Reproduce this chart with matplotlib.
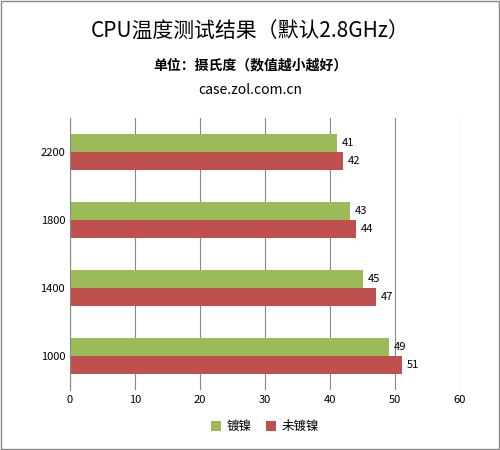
import matplotlib
matplotlib.use("Agg")
import matplotlib.pyplot as plt
import numpy as np

plt.rcParams['font.family'] = ['Noto Sans CJK SC', 'DejaVu Sans']

categories = ['1000', '1400', '1800', '2200']
plated = [49, 45, 43, 41]
unplated = [51, 47, 44, 42]
xticks = [0, 10, 20, 30, 40, 50, 60]

fig = plt.figure(figsize=(5, 4.5), dpi=100)
fig.patch.set_facecolor('white')
fig.add_artist(plt.Rectangle((0.002, 0.002), 0.996, 0.996, transform=fig.transFigure,
                             fill=False, edgecolor='#888888', lw=1))
ax = fig.add_axes([0.14, 0.133, 0.78, 0.605])
y = np.arange(len(categories))
h = 0.27
ax.barh(y + h/2, plated, height=h, color='#9BBB59', label='镀镍')
ax.barh(y - h/2, unplated, height=h, color='#C0504D', label='未镀镍')
for i in range(len(categories)):
    ax.text(plated[i] + 0.8, y[i] + h/2, str(plated[i]), va='center', fontsize=8)
    ax.text(unplated[i] + 0.8, y[i] - h/2, str(unplated[i]), va='center', fontsize=8)
ax.set_xlim(0, 60)
ax.set_ylim(-0.5, 3.5)
ax.set_xticks(xticks)
ax.set_yticks(y)
ax.set_yticklabels(categories)
ax.tick_params(labelsize=8, length=0)
ax.grid(axis='x', color='#888888', lw=0.8)
ax.set_axisbelow(True)
for s in ['top', 'right', 'bottom']:
    ax.spines[s].set_visible(False)
ax.spines['left'].set_color('#888888')
ax.legend(loc='upper center', bbox_to_anchor=(0.5, -0.07), ncol=2, frameon=False,
          fontsize=9, handlelength=0.8, handleheight=0.8, columnspacing=1.2, handletextpad=0.4)
fig.text(0.5, 0.915, 'CPU温度测试结果（默认2.8GHz）', ha='center', fontsize=15)
fig.text(0.5, 0.845, '单位：摄氏度（数值越小越好）', ha='center', fontsize=10, fontweight='bold')
fig.text(0.5, 0.79, 'case.zol.com.cn', ha='center', fontsize=10)
fig.savefig('out.png', dpi=100)
